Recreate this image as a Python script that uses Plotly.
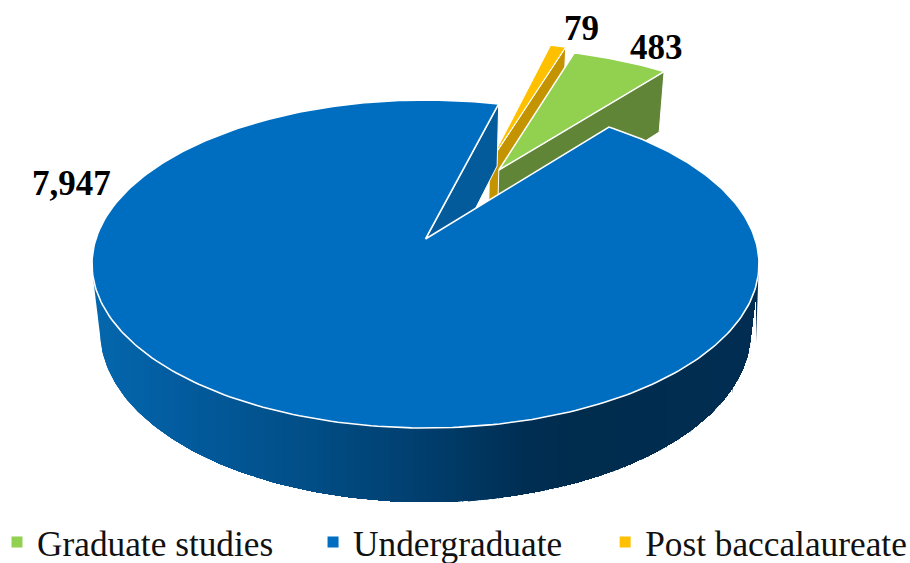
import numpy as np
import plotly.graph_objects as go

categories = ["Graduate studies", "Undergraduate", "Post baccalaureate"]
values = [483, 7947, 79]
value_labels = ["483", "7,947", "79"]
top_colors = ["#92D050", "#006EC0", "#FFC000"]
wall_colors = ["#618537", "#045B9C", "#C49400"]
FIRST_ANGLE = 18.1

# projection of the tilted disc (page pixels)
AX, AY, RX, RY, K, M, D = 425.5, 239, 329.6, 160.2, 0.1524, 0.025, 69.3
offsets = [(0.238, 0.461), (0.0, 0.0), (0.21, 0.515)]

GRAD_X = [93, 170, 300, 425, 520, 570, 760]
GRAD_R = [5, 3, 2, 1, 0, 0, 0]
GRAD_G = [103, 93, 79, 62, 47, 44, 46]
GRAD_B = [173, 160, 136, 109, 84, 78, 82]


def project(u, v, z=0.0):
    w = 1 + K * v + M * z
    return AX + RX * u / w, AY - (RY * v - D * z) / w


spans = []
start = FIRST_ANGLE
for val in values:
    sweep = val / sum(values) * 360
    spans.append((start, start + sweep))
    start += sweep


def rim(i, a, z=0.0):
    t = np.radians(a)
    ox, oy = offsets[i]
    return project(ox + np.sin(t), oy + np.cos(t), z)


def top_poly(i):
    a0, a1 = spans[i]
    ang = np.linspace(a0, a1, max(12, int(a1 - a0)))
    ox, oy = offsets[i]
    ax, ay = project(ox, oy)
    rx, ry = rim(i, ang)
    return np.r_[ax, rx, ax], np.r_[ay, ry, ay]


def side_wall(i, a):
    ox, oy = offsets[i]
    p = [project(ox, oy), rim(i, a), rim(i, a, 1.0), project(ox, oy, 1.0)]
    xs, ys = zip(*p)
    return list(xs) + [xs[0]], list(ys) + [ys[0]]


def convex_hull(points):
    pts = sorted(set(points))

    def half(seq):
        out = []
        for p in seq:
            while len(out) > 1 and ((out[-1][0] - out[-2][0]) * (p[1] - out[-2][1])
                                    - (out[-1][1] - out[-2][1]) * (p[0] - out[-2][0])) <= 0:
                out.pop()
            out.append(p)
        return out[:-1]

    return half(pts) + half(pts[::-1])


fig = go.Figure()


def poly(x, y, fill, line=None, width=1.5):
    fig.add_trace(go.Scatter(
        x=x, y=y, mode="lines", fill="toself", fillcolor=fill,
        line=dict(color=line or fill, width=width),
        hoverinfo="skip", showlegend=False))


# undergraduate curved outer wall: the outline of the front of the solid,
# painted left to right with bands that overlap so no seams appear
front = np.linspace(98, 262, 165)
xt, yt = rim(1, front)
xb, yb = rim(1, front, 1.0)
hull = convex_hull(list(zip(xt.tolist(), yt.tolist())) + list(zip(xb.tolist(), yb.tolist())))
hx = np.array([p[0] for p in hull + hull[:1]])
hy = np.array([p[1] for p in hull + hull[:1]])
for bx in np.arange(90, 762, 6.0):
    c = "rgb(%d,%d,%d)" % tuple(np.interp(bx, GRAD_X, ch) for ch in (GRAD_R, GRAD_G, GRAD_B))
    if bx < hx.max():
        poly(np.maximum(hx, bx), hy, c, width=0)

# post baccalaureate
x, y = side_wall(2, spans[2][1])
poly(x, y, wall_colors[2], "white", 1)
x, y = top_poly(2)
poly(x, y, top_colors[2], "white", 1.2)
# graduate studies
x, y = side_wall(0, spans[0][1])
poly(x, y, wall_colors[0], "white", 1)
x, y = top_poly(0)
poly(x, y, top_colors[0], "white", 1.5)
# undergraduate inner wall and top
x, y = side_wall(1, spans[1][1])
poly(x, y, wall_colors[1], "white", 1)
x, y = top_poly(1)
poly(x, y, top_colors[1], "white", 1.6)

# legends, one per category so each entry sits at its own place
legend_x = [-0.0033, 0.344, 0.665]
for i, name in enumerate(categories):
    ref = "legend" if i == 0 else f"legend{i + 1}"
    fig.add_trace(go.Scatter(
        x=[None], y=[None], mode="markers", name=name, legend=ref,
        marker=dict(symbol="square", size=11, color=top_colors[i])))
    fig.update_layout({ref: dict(
        x=legend_x[i], y=0.037, xanchor="left", yanchor="middle",
        orientation="h", bgcolor="rgba(0,0,0,0)", itemwidth=30,
        font=dict(family="Liberation Serif", size=35.3, color="#111111"))})

label_pos = [(656, 47), (71, 183), (581, 28)]
for txt, (lx, ly) in zip(value_labels, label_pos):
    fig.add_annotation(x=lx, y=ly, text=f"<b>{txt}</b>", showarrow=False,
                       font=dict(family="Liberation Serif", size=35, color="#000000"))

fig.update_layout(
    width=910, height=563, margin=dict(l=0, r=0, t=0, b=0, autoexpand=False),
    paper_bgcolor="white", plot_bgcolor="white",
    xaxis=dict(range=[0, 910], visible=False, fixedrange=True),
    yaxis=dict(range=[563, 0], visible=False, fixedrange=True),
)
fig.write_html("out.html", config={"displayModeBar": False},
               post_script="document.body.style.margin='0';")
